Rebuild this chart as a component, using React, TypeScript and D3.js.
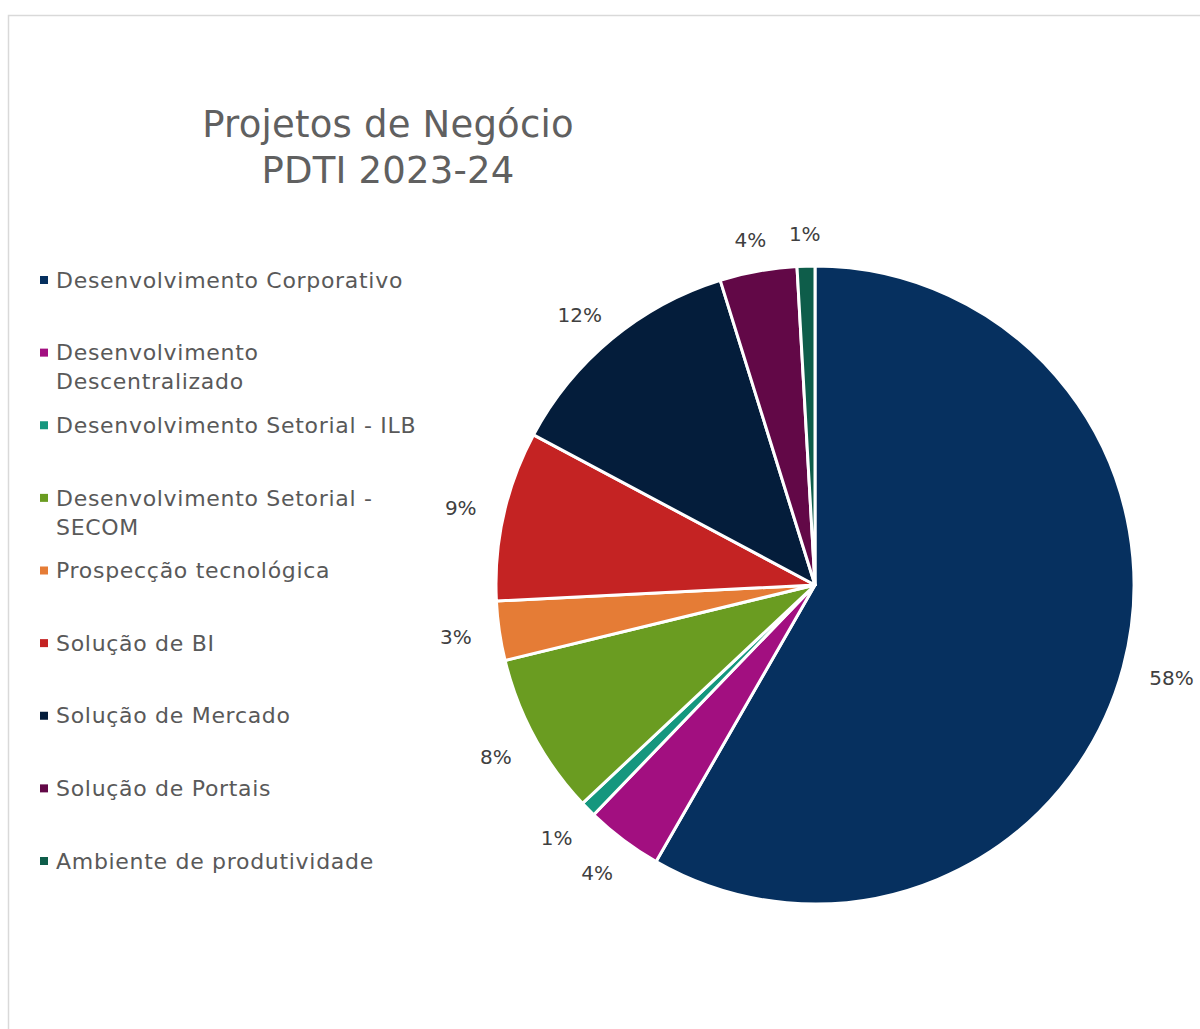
import React from 'react';
import * as d3 from 'd3';

// categories, in slice order (clockwise from 12 o'clock)
const categories = [
  'Desenvolvimento Corporativo',
  'Desenvolvimento Descentralizado',
  'Desenvolvimento Setorial - ILB',
  'Desenvolvimento Setorial - SECOM',
  'Prospecção tecnológica',
  'Solução de BI',
  'Solução de Mercado',
  'Solução de Portais',
  'Ambiente de produtividade',
];
// legend lines (wrapped as in the reference)
const legendLines = [
  ['Desenvolvimento Corporativo'],
  ['Desenvolvimento', 'Descentralizado'],
  ['Desenvolvimento Setorial - ILB'],
  ['Desenvolvimento Setorial -', 'SECOM'],
  ['Prospecção tecnológica'],
  ['Solução de BI'],
  ['Solução de Mercado'],
  ['Solução de Portais'],
  ['Ambiente de produtividade'],
];
const shares = [58.3, 3.9, 0.8, 8.2, 3.0, 8.6, 12.4, 3.9, 0.9];
const colors = ['#06305f', '#a20f80', '#15977e', '#6a9c21', '#e57c36', '#c42323', '#041d3b', '#620847', '#0e5d4a'];
const titleLines = ['Projetos de Negócio', 'PDTI 2023-24'];

const W = 1200, H = 1029;
const FONT = '"DejaVu Sans", sans-serif';

export default function App() {
  const cx = 815, cy = 585, r = 319;
  const pie = d3.pie<number>().sort(null).value(d => d);
  const arcs = pie(shares);
  const arc = d3.arc<d3.PieArcDatum<number>>().innerRadius(0).outerRadius(r);
  const total = d3.sum(shares);
  const legendY = d3.scaleLinear().domain([0, 8]).range([280, 861]);
  const labelFs = 20;
  const gap = 32;

  return (
    <svg width={W} height={H} style={{ position: 'absolute', left: 0, top: 0 }}>
      <rect x={0} y={0} width={W} height={H} fill="#fff" />
      <rect x={8.5} y={15.5} width={W + 10} height={H + 10} fill="#fff" stroke="#d9d9d9" strokeWidth={1.5} />

      <g fontFamily={FONT} fill="#606060" textAnchor="middle" fontSize={37} letterSpacing={0.2}>
        {titleLines.map((t, i) => (
          <text key={t} x={388} y={137 + i * 46}>{t}</text>
        ))}
      </g>

      <g transform={`translate(${cx},${cy})`}>
        {arcs.map((a, i) => (
          <path key={i} d={arc(a) || ''} fill={colors[i]} stroke="#fff" strokeWidth={3} strokeLinejoin="round" />
        ))}
        {arcs.map((a, i) => {
          const mid = (a.startAngle + a.endAngle) / 2;
          const s = Math.sin(mid), c = -Math.cos(mid);
          const txt = Math.round((a.data / total) * 100) + '%';
          const w = txt.length * labelFs * 0.6, h = labelFs * 0.95;
          const lx = s * (r + gap) + s * w / 2;
          const ly = c * (r + gap) + (c > 0 ? c * h / 2 : 0);
          return (
            <text key={'l' + i} x={lx} y={ly} dy="0.35em" textAnchor="middle"
              fontFamily={FONT} fontSize={labelFs} fill="#404040">
              {txt}
            </text>
          );
        })}
      </g>

      <g fontFamily={FONT} fontSize={22} fill="#595959" letterSpacing={0.7}>
        {legendLines.map((lines, i) => (
          <g key={categories[i]} transform={`translate(0,${legendY(i)})`}>
            <rect x={40} y={-4} width={8} height={8} fill={colors[i]} />
            {lines.map((ln, j) => (
              <text key={j} x={56} y={j * 29} dy="0.35em">{ln}</text>
            ))}
          </g>
        ))}
      </g>
    </svg>
  );
}
